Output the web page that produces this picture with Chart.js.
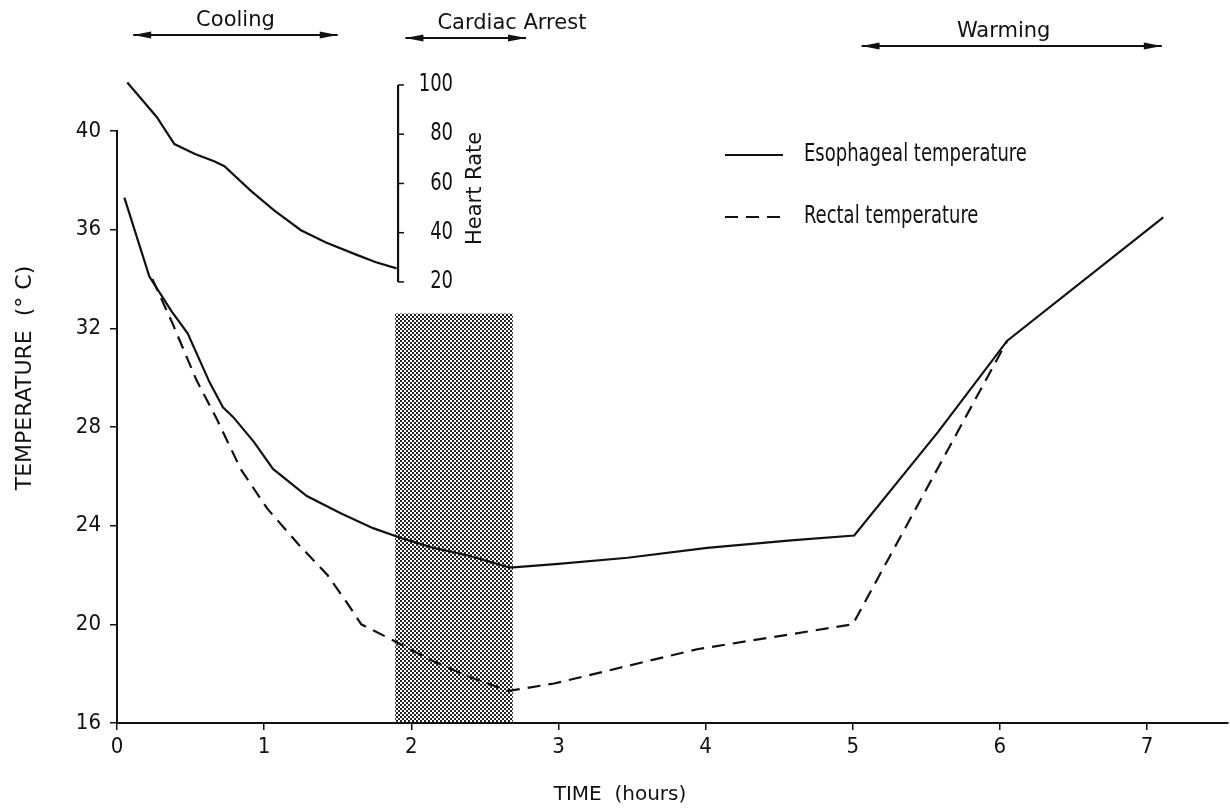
<!DOCTYPE html>
<html>
<head>
<meta charset="utf-8">
<script src="https://cdn.jsdelivr.net/npm/chart.js@4.4.1/dist/chart.umd.min.js"></script>
<style>
  html, body { margin: 0; padding: 0; background: #fff; }
  #wrap { width: 1230px; height: 811px; position: relative; }
</style>
</head>
<body>
<div id="wrap"><canvas id="c" width="1230" height="811"></canvas></div>
<script>
// ---------- data ----------
const HOUR_TICKS = [0, 1, 2, 3, 4, 5, 6, 7];
const TEMP_TICKS = [16, 20, 24, 28, 32, 36, 40];
const HR_TICKS = [20, 40, 60, 80, 100];

const ESO_HOURS = [0.05, 0.22, 0.37, 0.48, 0.63, 0.72, 0.79, 0.93, 1.06, 1.29, 1.52, 1.74, 1.93, 2.15, 2.38, 2.67, 3.00, 3.47, 4.01, 4.58, 5.01, 5.58, 6.05, 7.11];
const ESO_TEMP  = [37.3, 34.1, 32.7, 31.8, 29.8, 28.8, 28.4, 27.4, 26.3, 25.2, 24.5, 23.9, 23.5, 23.1, 22.8, 22.3, 22.45, 22.7, 23.1, 23.4, 23.6, 27.8, 31.5, 36.5];

const RECTAL_HOURS = [0.24, 0.37, 0.54, 0.68, 0.84, 1.02, 1.24, 1.43, 1.56, 1.66, 1.86, 2.15, 2.38, 2.66, 2.97, 3.95, 5.00, 6.05];
const RECTAL_TEMP  = [34.0, 32.3, 29.9, 28.3, 26.3, 24.7, 23.2, 22.0, 20.9, 20.0, 19.4, 18.5, 17.9, 17.3, 17.6, 19.0, 20.0, 31.5];

const HR_HOURS = [0.07, 0.27, 0.39, 0.53, 0.66, 0.73, 0.91, 1.07, 1.25, 1.42, 1.63, 1.76, 1.90];
const HR_BPM   = [101, 87, 76, 72, 69, 67, 57, 49, 41, 36, 31, 28, 25.5];

const HR_AXIS_AT = 1.91;          // hours where the heart-rate scale stands
const ARREST_START = 1.89, ARREST_END = 2.69, ARREST_TOP = 32.6;

const PHASE_NAMES = ['Cooling', 'Cardiac Arrest', 'Warming'];
const PHASE_FROM  = [0.11, 1.96, 5.06];
const PHASE_TO    = [1.50, 2.78, 7.10];

const SERIES_NAMES = ['Esophageal temperature', 'Rectal temperature', 'Heart Rate'];

// ---------- styling ----------
const FONT_C = "'DejaVu Sans Condensed', 'Liberation Sans Narrow', 'DejaVu Sans', sans-serif";
const FONT_R = "'DejaVu Sans', 'Liberation Sans', sans-serif";
const INK = '#111';

function makePattern() {
  const c = document.createElement('canvas');
  c.width = 4; c.height = 4;
  const g = c.getContext('2d');
  g.fillStyle = '#fff'; g.fillRect(0, 0, 4, 4);
  g.fillStyle = '#222';
  g.fillRect(0, 0, 2, 2);
  g.fillRect(2, 2, 2, 2);
  return g.createPattern(c, 'repeat');
}

function pts(xs, ys) { return xs.map((v, i) => ({ x: v, y: ys[i] })); }

function arrowHead(ctx, x, y, dir) {
  ctx.beginPath();
  ctx.moveTo(x, y);
  ctx.lineTo(x - dir * 18, y - 3.5);
  ctx.lineTo(x - dir * 18, y + 3.5);
  ctx.closePath();
  ctx.fill();
}

// tall, narrow text like the typeset original
function tallText(ctx, s, x, y, align, size) {
  ctx.save();
  ctx.translate(x, y);
  ctx.scale(1, 1.2);
  ctx.font = size + 'px ' + FONT_C;
  ctx.textAlign = align;
  ctx.textBaseline = 'middle';
  ctx.fillText(s, 0, 0);
  ctx.restore();
}

const decor = {
  id: 'decor',
  beforeDatasetsDraw(chart) {
    const { ctx, scales: { x, y } } = chart;
    const x1 = x.getPixelForValue(ARREST_START), x2 = x.getPixelForValue(ARREST_END);
    const y1 = y.getPixelForValue(ARREST_TOP), y2 = y.getPixelForValue(y.min) - 1;
    ctx.save();
    ctx.fillStyle = makePattern();
    ctx.fillRect(x1, y1, x2 - x1, y2 - y1);
    ctx.restore();
  },
  afterDraw(chart) {
    const { ctx, scales: { x, y, yHR } } = chart;
    ctx.save();
    ctx.fillStyle = INK; ctx.strokeStyle = INK;

    // heart-rate axis
    const ax = x.getPixelForValue(HR_AXIS_AT);
    const top = yHR.getPixelForValue(HR_TICKS[HR_TICKS.length - 1]);
    const bot = yHR.getPixelForValue(HR_TICKS[0]);
    ctx.lineWidth = 2.2;
    ctx.beginPath(); ctx.moveTo(ax, top); ctx.lineTo(ax, bot); ctx.stroke();
    HR_TICKS.forEach(v => {
      const py = yHR.getPixelForValue(v);
      ctx.lineWidth = 1.5;
      ctx.beginPath(); ctx.moveTo(ax, py); ctx.lineTo(ax + 6, py); ctx.stroke();
      tallText(ctx, String(v), ax + 55, py, 'right', 20);
    });
    ctx.save();
    ctx.translate(ax + 77, yHR.getPixelForValue(58));
    ctx.rotate(-Math.PI / 2);
    ctx.textAlign = 'center'; ctx.textBaseline = 'middle';
    ctx.font = '21px ' + FONT_R;
    ctx.fillText(SERIES_NAMES[2], 0, 0);
    ctx.restore();

    // axis titles
    ctx.font = '20px ' + FONT_R;
    ctx.textAlign = 'center'; ctx.textBaseline = 'middle';
    ctx.fillText('TIME  (hours)', 620, 795);
    ctx.save();
    ctx.translate(25, 378);
    ctx.rotate(-Math.PI / 2);
    ctx.font = '22px ' + FONT_R;
    ctx.fillText('TEMPERATURE  (\u00B0 C)', 0, 0);
    ctx.restore();

    // legend
    const ds = chart.data.datasets;
    const legY = [155, 217];
    [0, 1].forEach(i => {
      ctx.save();
      ctx.lineWidth = 2;
      ctx.setLineDash(ds[i].borderDash || []);
      ctx.beginPath(); ctx.moveTo(725, legY[i]); ctx.lineTo(783, legY[i]); ctx.stroke();
      ctx.restore();
      tallText(ctx, ds[i].label, 804, legY[i], 'left', 20);
    });

    // phase annotations
    const textY = [21, 24, 32];
    const arrY = [35, 38, 46];
    PHASE_NAMES.forEach((name, i) => {
      const a = x.getPixelForValue(PHASE_FROM[i]);
      const b = x.getPixelForValue(PHASE_TO[i]);
      ctx.lineWidth = 2.2;
      ctx.beginPath(); ctx.moveTo(a, arrY[i]); ctx.lineTo(b, arrY[i]); ctx.stroke();
      arrowHead(ctx, a, arrY[i], -1);
      arrowHead(ctx, b, arrY[i], 1);
      ctx.font = '21px ' + FONT_R;
      ctx.textBaseline = 'middle';
      if (i === 1) { ctx.textAlign = 'left'; ctx.fillText(name, a + 32, textY[i]); }
      else { ctx.textAlign = 'center'; ctx.fillText(name, (a + b) / 2 + (i === 2 ? -8 : 0), textY[i]); }
    });
    ctx.restore();
  }
};

const tickFont = { family: FONT_C, size: 22 };

new Chart(document.getElementById('c'), {
  type: 'scatter',
  data: {
    datasets: [
      { label: SERIES_NAMES[0], data: pts(ESO_HOURS, ESO_TEMP), yAxisID: 'y',
        showLine: true, borderColor: INK, borderWidth: 2.2, pointRadius: 0, tension: 0 },
      { label: SERIES_NAMES[1], data: pts(RECTAL_HOURS, RECTAL_TEMP), yAxisID: 'y',
        showLine: true, borderColor: INK, borderWidth: 2.2, borderDash: [13, 8], pointRadius: 0, tension: 0 },
      { label: SERIES_NAMES[2], data: pts(HR_HOURS, HR_BPM), yAxisID: 'yHR',
        showLine: true, borderColor: INK, borderWidth: 2.2, pointRadius: 0, tension: 0, clip: false }
    ]
  },
  options: {
    responsive: false,
    animation: false,
    devicePixelRatio: 1,
    layout: { padding: { left: 0, top: 131, right: 2, bottom: 0 } },
    plugins: { legend: { display: false }, tooltip: { enabled: false } },
    scales: {
      x: {
        type: 'linear', position: 'bottom', min: 0, max: 7.55,
        afterBuildTicks: s => { s.ticks = HOUR_TICKS.map(v => ({ value: v })); },
        afterFit: s => { s.height = 88; },
        grid: { drawOnChartArea: false, drawTicks: true, tickLength: 7, color: INK, lineWidth: 1.5 },
        border: { display: true, color: INK, width: 2 },
        ticks: { color: INK, font: tickFont, padding: 4, maxRotation: 0 }
      },
      y: {
        type: 'linear', position: 'left', min: 16, max: 40,
        afterBuildTicks: s => { s.ticks = TEMP_TICKS.map(v => ({ value: v })); },
        afterFit: s => { s.width = 117; },
        grid: { drawOnChartArea: false, drawTicks: true, tickLength: 7, color: INK, lineWidth: 1.5 },
        border: { display: true, color: INK, width: 2 },
        ticks: { color: INK, font: tickFont, padding: 9 }
      },
      yHR: {
        type: 'linear', display: false, min: -159.1, max: 81.3
      }
    }
  },
  plugins: [decor]
});
</script>
</body>
</html>
